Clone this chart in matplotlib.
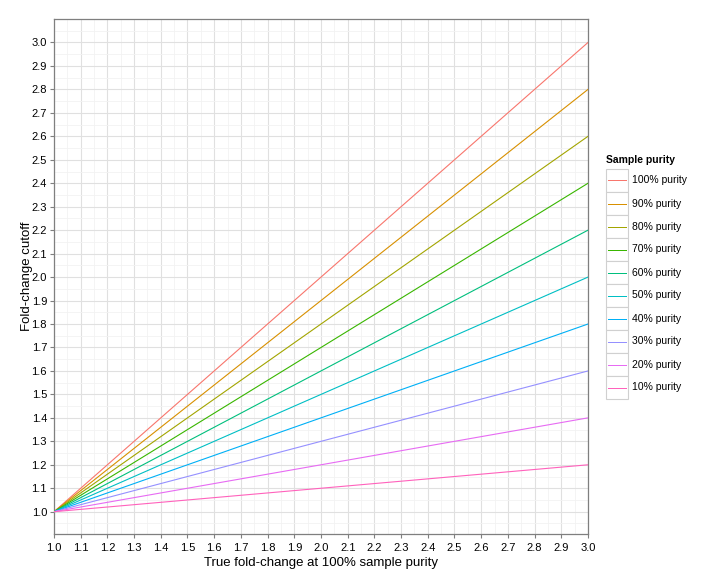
import matplotlib
matplotlib.use("Agg")
import matplotlib.pyplot as plt
from matplotlib.patches import Rectangle
from matplotlib.lines import Line2D
import numpy as np

plt.rcParams['font.family'] = ['Liberation Sans', 'DejaVu Sans']

# ---------------- data ----------------
true_fc = [1.0, 1.5, 2.0, 2.5, 3.0]
purity_labels = ["100% purity", "90% purity", "80% purity", "70% purity", "60% purity",
                 "50% purity", "40% purity", "30% purity", "20% purity", "10% purity"]
cutoff_100 = [1.0, 1.50, 2.00, 2.50, 3.0]
cutoff_90 = [1.0, 1.45, 1.90, 2.35, 2.8]
cutoff_80 = [1.0, 1.40, 1.80, 2.20, 2.6]
cutoff_70 = [1.0, 1.35, 1.70, 2.05, 2.4]
cutoff_60 = [1.0, 1.30, 1.60, 1.90, 2.2]
cutoff_50 = [1.0, 1.25, 1.50, 1.75, 2.0]
cutoff_40 = [1.0, 1.20, 1.40, 1.60, 1.8]
cutoff_30 = [1.0, 1.15, 1.30, 1.45, 1.6]
cutoff_20 = [1.0, 1.10, 1.20, 1.30, 1.4]
cutoff_10 = [1.0, 1.05, 1.10, 1.15, 1.2]
cutoffs = [cutoff_100, cutoff_90, cutoff_80, cutoff_70, cutoff_60,
           cutoff_50, cutoff_40, cutoff_30, cutoff_20, cutoff_10]
colors = ["#F8766D", "#D89000", "#A3A500", "#39B600", "#00BF7D",
          "#00BFC4", "#00B0F6", "#9590FF", "#E76BF3", "#FF62BC"]
ticks = [round(1.0 + 0.1 * i, 1) for i in range(21)]

W, H = 728, 580
fig = plt.figure(figsize=(W / 100, H / 100), dpi=100)
ax = fig.add_axes([54 / W, (H - 534) / H, (588 - 54) / W, (534 - 19) / H])

for y, c, lab in zip(cutoffs, colors, purity_labels):
    ax.plot(true_fc, y, color=c, lw=0.8, label=lab, zorder=3)

ax.set_xlim(1.0, 3.0)
ax.set_ylim(0.905, 3.1)
ax.set_xticks(ticks)
ax.set_yticks(ticks)
ax.set_xticklabels([f"{t:.1f}" for t in ticks], fontsize=8)
ax.set_yticklabels([f"{t:.1f}" for t in ticks], fontsize=8)
ax.set_xticks(np.arange(1.05, 3.0, 0.1), minor=True)
ax.set_yticks(np.arange(0.95, 3.1, 0.1), minor=True)
ax.grid(which='major', color='#E0E0E0', lw=0.8, zorder=0)
ax.grid(which='minor', color='#F2F2F2', lw=0.6, zorder=0)
ax.set_axisbelow(True)
ax.tick_params(which='major', length=3, width=0.8, color='#7F7F7F', labelcolor='black')
ax.tick_params(axis='x', which='major', pad=3.5)
ax.tick_params(axis='y', which='major', pad=2)
ax.tick_params(which='minor', length=0)
for s in ax.spines.values():
    s.set_color('#7F7F7F')
    s.set_linewidth(0.9)

ax.set_xlabel("True fold-change at 100% sample purity", fontsize=9.5, labelpad=3)
ax.set_ylabel("Fold-change cutoff", fontsize=9.5, labelpad=-1)

# legend drawn by hand so each key has its grey box
fig.text(606 / W, 1 - 160 / H, "Sample purity", fontsize=7.5, fontweight='bold', va='center', ha='left')
key_top = 169
key_h = 23
for i, (c, lab) in enumerate(zip(colors, purity_labels)):
    top = key_top + i * key_h
    fig.patches.append(Rectangle((606 / W, 1 - (top + key_h) / H), 22 / W, key_h / H,
                                 transform=fig.transFigure, facecolor='white',
                                 edgecolor='#D0D0D0', lw=0.8))
    yc = 1 - (top + 11.5) / H
    fig.lines.append(Line2D([608 / W, 626 / W], [yc, yc], transform=fig.transFigure,
                            color=c, lw=0.7, antialiased=False))
    fig.text(632 / W, yc, lab, fontsize=7.5, va='center', ha='left')

fig.savefig("out.png", dpi=100)
